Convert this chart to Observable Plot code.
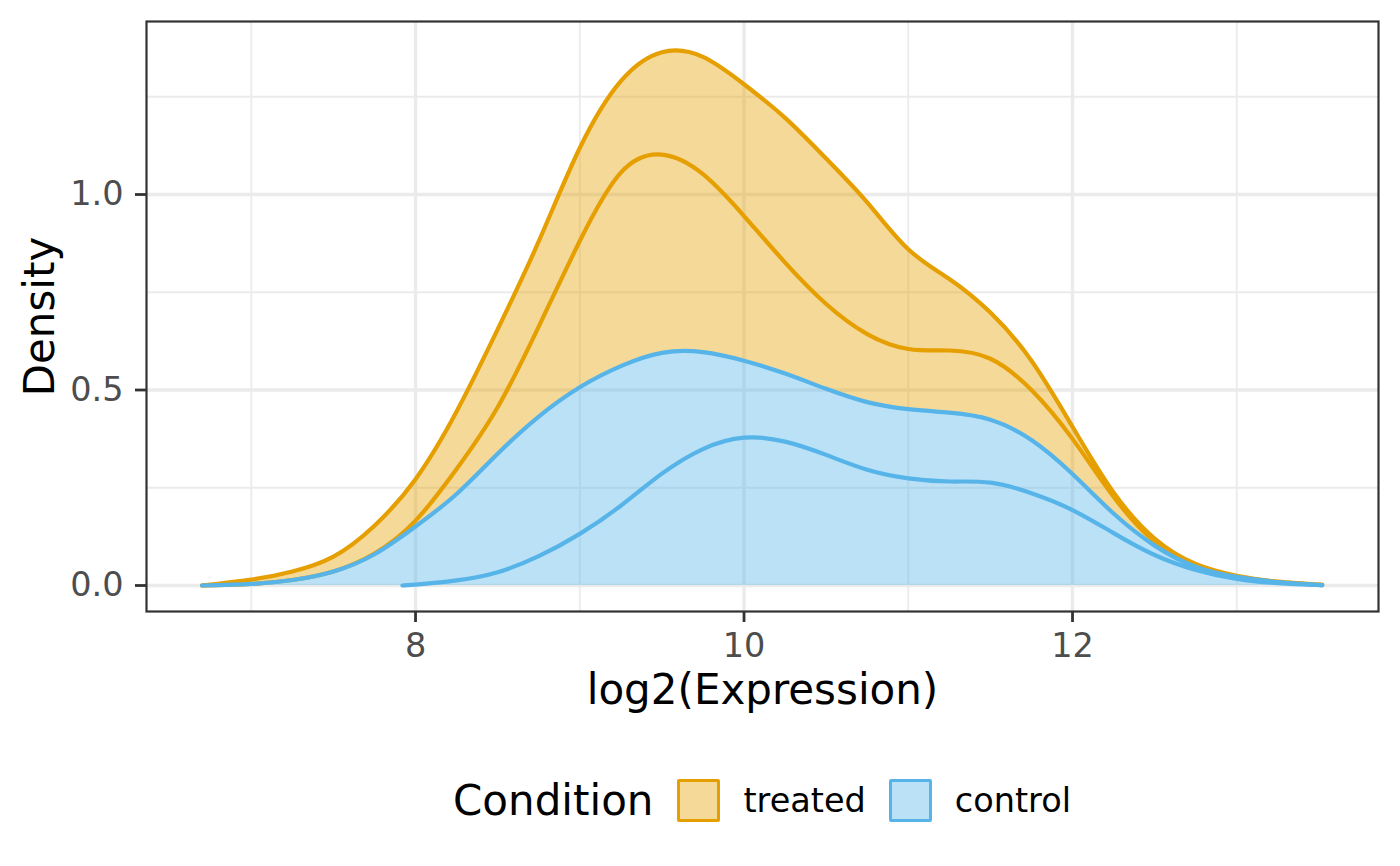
<!DOCTYPE html>
<html>
<head>
<meta charset="utf-8">
<script src="https://cdn.jsdelivr.net/npm/d3@7"></script>
<script src="https://cdn.jsdelivr.net/npm/@observablehq/plot@0.6"></script>
<style>
  body { margin: 0; background: #fff; font-family: "DejaVu Sans", sans-serif; }
  #chart { position: relative; width: 1400px; height: 866px; overflow: hidden; }
  #legend { position: absolute; left: 0; top: 740px; width: 1400px; height: 120px;
            display: flex; align-items: center; justify-content: center;
            padding-left: 124px; box-sizing: border-box; color: #000; }
  #legend .ttl { font-size: 42px; margin-right: 24px; }
  #legend .key { width: 43px; height: 43px; box-sizing: border-box; border: 3.4px solid; border-radius: 2px; margin-right: 23px; }
  #legend .lab { font-size: 33.5px; margin-right: 23px; }
  #legend .lab:last-child { margin-right: 0; }
</style>
</head>
<body>
<div id="chart"></div>
<script>
// x positions (log2 expression) at which the stacked density curves were read
const xGrid = [6.7, 7.0, 7.25, 7.5, 7.75, 8.0, 8.25, 8.5, 8.75, 9.0, 9.25, 9.5, 9.75, 10.0, 10.25, 10.5, 10.75, 11.0, 11.25, 11.5, 11.75, 12.0, 12.25, 12.5, 12.75, 13.0, 13.25, 13.52];
// stacked curve tops (density), from top to bottom
const treatedOuter = [0.0, 0.015, 0.036, 0.074, 0.153, 0.272, 0.445, 0.655, 0.880, 1.119, 1.290, 1.364, 1.352, 1.282, 1.196, 1.092, 0.980, 0.860, 0.784, 0.698, 0.575, 0.406, 0.238, 0.120, 0.055, 0.025, 0.010, 0.002];
const treatedInner = [0.0, 0.004, 0.014, 0.036, 0.082, 0.166, 0.298, 0.456, 0.662, 0.881, 1.056, 1.102, 1.052, 0.945, 0.826, 0.720, 0.643, 0.605, 0.601, 0.580, 0.500, 0.375, 0.227, 0.112, 0.052, 0.023, 0.009, 0.001];
const controlOuter = [0.0, 0.004, 0.014, 0.036, 0.080, 0.151, 0.234, 0.337, 0.432, 0.507, 0.561, 0.595, 0.597, 0.575, 0.542, 0.503, 0.469, 0.451, 0.442, 0.424, 0.372, 0.285, 0.184, 0.102, 0.048, 0.022, 0.009, 0.001];
const controlInner = [null, null, null, null, null, 0.002, 0.013, 0.034, 0.075, 0.132, 0.204, 0.286, 0.349, 0.378, 0.368, 0.334, 0.296, 0.274, 0.266, 0.263, 0.236, 0.193, 0.134, 0.078, 0.040, 0.017, 0.006, 0.001];
const controlInnerStart = {x: 7.92, y: 0};

const conditions = ["treated", "control"];
const colors = ["#E69F00", "#56B4E9"];
const xMajor = [8, 10, 12];
const xMinor = [7, 9, 11, 13];
const yMajor = [0, 0.5, 1.0];
const yMinor = [0.25, 0.75, 1.25];

// layers drawn in ggplot order (top group first)
const layers = [
  {lo: treatedInner, hi: treatedOuter, color: colors[0]},
  {lo: controlOuter, hi: treatedInner, color: colors[0]},
  {lo: controlInner.map(v => v ?? 0), hi: controlOuter, color: colors[1]},
  {lo: xGrid.map(() => 0), hi: controlInner, color: colors[1], start: controlInnerStart}
];

const curve = "natural";
const marks = [
  Plot.gridX(xMinor, {stroke: "#EBEBEB", strokeOpacity: 1, strokeWidth: 1.8}),
  Plot.gridY(yMinor, {stroke: "#EBEBEB", strokeOpacity: 1, strokeWidth: 1.8}),
  Plot.gridX(xMajor, {stroke: "#EBEBEB", strokeOpacity: 1, strokeWidth: 3.4}),
  Plot.gridY(yMajor, {stroke: "#EBEBEB", strokeOpacity: 1, strokeWidth: 3.4})
];
for (const L of layers) {
  let rows = xGrid.map((x, i) => ({x, lo: L.lo[i], hi: L.hi[i]})).filter(d => d.hi != null);
  if (L.start) rows = [{x: L.start.x, lo: 0, hi: L.start.y}, ...rows];
  marks.push(Plot.areaY(rows, {x: "x", y1: "lo", y2: "hi", fill: L.color, fillOpacity: 0.4, curve}));
  marks.push(Plot.lineY(rows, {x: "x", y: "hi", stroke: L.color, strokeWidth: 4.2, curve}));
}
marks.push(
  Plot.frame({stroke: "#333333", strokeWidth: 2.2}),
  Plot.axisX(xMajor, {anchor: "bottom", tickSize: 11, tickPadding: 11, fontSize: 33.5, fill: "#4D4D4D", stroke: "#333333", strokeWidth: 2.8, label: null, tickFormat: d => String(d)}),
  Plot.axisY(yMajor, {anchor: "left", tickSize: 11, tickPadding: 12, fontSize: 33.5, fill: "#4D4D4D", stroke: "#333333", strokeWidth: 2.8, label: null, tickFormat: d3.format(".1f")}),
  Plot.text(["log2(Expression)"], {text: d => d, frameAnchor: "bottom", dy: 92, lineAnchor: "bottom", textAnchor: "middle", fontSize: 42, fill: "#000"}),
  Plot.text(["Density"], {text: d => d, frameAnchor: "left", rotate: -90, dx: -93, lineAnchor: "bottom", textAnchor: "middle", fontSize: 42, fill: "#000"})
);

const chart = Plot.plot({
  width: 1400,
  height: 740,
  marginLeft: 146,
  marginRight: 22,
  marginTop: 21,
  marginBottom: 129,
  style: {fontFamily: "DejaVu Sans", fontSize: "33.5px", background: "#fff", overflow: "visible"},
  x: {domain: [6.362, 13.863]},
  y: {domain: [-0.0665, 1.4425]},
  marks
});

const root = document.getElementById("chart");
root.appendChild(chart);

const legend = document.createElement("div");
legend.id = "legend";
const t = document.createElement("span");
t.className = "ttl";
t.textContent = "Condition";
legend.appendChild(t);
conditions.forEach((c, i) => {
  const k = document.createElement("span");
  k.className = "key";
  k.style.borderColor = colors[i];
  k.style.background = d3.color(colors[i]).copy({opacity: 0.4}).formatRgb();
  legend.appendChild(k);
  const l = document.createElement("span");
  l.className = "lab";
  l.textContent = c;
  legend.appendChild(l);
});
root.appendChild(legend);
</script>
</body>
</html>
